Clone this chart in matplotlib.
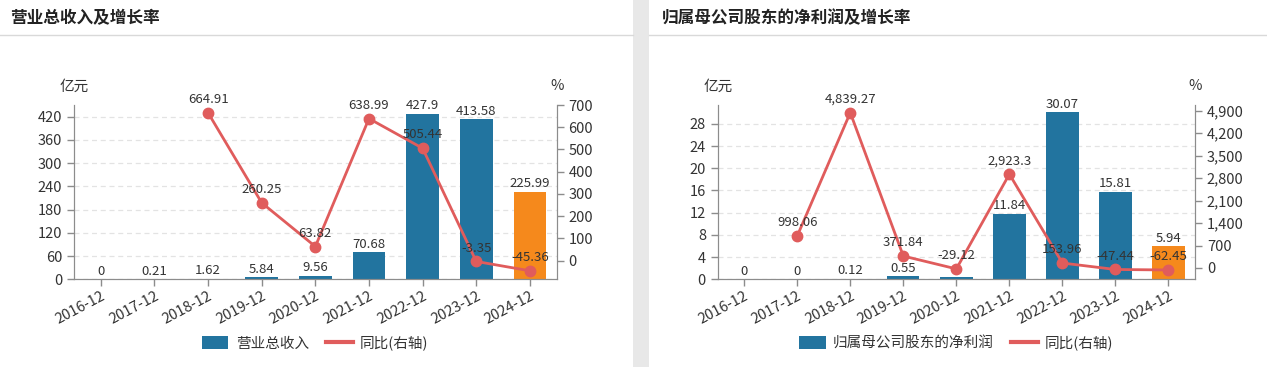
import matplotlib
matplotlib.use('Agg')
import matplotlib.pyplot as plt
import matplotlib.patches as patches
from matplotlib.lines import Line2D
import numpy as np

plt.rcParams['font.family'] = ['Noto Sans CJK SC', 'DejaVu Sans']

# 数据
years = ['2016-12', '2017-12', '2018-12', '2019-12', '2020-12',
         '2021-12', '2022-12', '2023-12', '2024-12']

revenue = [0, 0.21, 1.62, 5.84, 9.56, 70.68, 427.9, 413.58, 225.99]
revenue_yoy = [None, None, 664.91, 260.25, 63.82, 638.99, 505.44, -3.35, -45.36]

profit = [0, 0, 0.12, 0.55, 0.39, 11.84, 30.07, 15.81, 5.94]
profit_yoy = [None, 998.06, 4839.27, 371.84, -29.12, 2923.3, 153.96, -47.44, -62.45]
profit_label_hidden = [4]  # 与折线标签重叠, 原图不显示

left_ticks_1 = [0, 60, 120, 180, 240, 300, 360, 420]
right_ticks_1 = [0, 100, 200, 300, 400, 500, 600, 700]
left_ticks_2 = [0, 4, 8, 12, 16, 20, 24, 28]
right_ticks_2 = [0, 700, 1400, 2100, 2800, 3500, 4200, 4900]

BLUE = '#22749f'
ORANGE = '#f5891c'
RED = '#e05c5c'
AXIS = '#8c8c8c'
TXT = '#333333'

W, H = 1267, 367
fig = plt.figure(figsize=(W / 100, H / 100), dpi=100)
fig.patch.set_facecolor('white')

# 中间灰色分隔带和标题下划线
fig.add_artist(patches.Rectangle((632.7 / W, 0), 16.6 / W, 1, transform=fig.transFigure,
                                 facecolor='#e8e8e8', edgecolor='none'))
fig.add_artist(Line2D([0, 632.7 / W], [1 - 35 / H] * 2, color='#d9d9d9', lw=1))
fig.add_artist(Line2D([649.3 / W, 1], [1 - 35 / H] * 2, color='#d9d9d9', lw=1))
fig.text(10 / W, 1 - 18 / H, '营业总收入及增长率', fontsize=12, fontweight='bold',
         va='center', ha='left', color='#222222')
fig.text(662 / W, 1 - 18 / H, '归属母公司股东的净利润及增长率', fontsize=12, fontweight='bold',
         va='center', ha='left', color='#222222')


def fmt(v):
    return f'{v:,g}'


def draw_panel(x0, x1, bars, yoy, lticks, rticks, lylim, rylim, bar_name, hidden=()):
    y_bot = 1 - 279.3 / H
    y_top = 1 - 105 / H
    ax = fig.add_axes([x0 / W, y_bot, (x1 - x0) / W, y_top - y_bot])
    ax2 = ax.twinx()
    x = np.arange(len(years))
    colors = [BLUE] * (len(bars) - 1) + [ORANGE]
    ax.bar(x, bars, width=0.61, color=colors, zorder=2)
    for i, v in enumerate(bars):
        if i in hidden:
            continue
        ax.annotate(fmt(v), (x[i], v), xytext=(0, 1), textcoords='offset points',
                    ha='center', va='bottom', fontsize=9.5, color=TXT, zorder=5)
    ax.set_xlim(-0.5, len(years) - 0.5)
    ax.set_ylim(*lylim)
    ax.set_yticks(lticks)
    ax.set_yticklabels([fmt(t) for t in lticks])
    ax.grid(axis='y', color='#e3e3e3', linestyle=(0, (4, 3)), lw=0.9, zorder=0)
    ax.set_xticks(x)
    ax.set_xticklabels(years, rotation=28, ha='right', rotation_mode='anchor')

    # 折线在右轴, 画在柱子上方
    xs = [xi for xi, v in zip(x, yoy) if v is not None]
    ys = [v for v in yoy if v is not None]
    ax2.plot(xs, ys, color=RED, lw=2, marker='o', markersize=7.5, zorder=4)
    for xi, v in zip(xs, ys):
        ax2.annotate(fmt(v), (xi, v), xytext=(0, 5), textcoords='offset points',
                     ha='center', va='bottom', fontsize=9.5, color=TXT, zorder=6)
    ax2.set_ylim(*rylim)
    ax2.set_yticks(rticks)
    ax2.set_yticklabels([fmt(t) for t in rticks])

    for a in (ax, ax2):
        for s in a.spines.values():
            s.set_color(AXIS)
        a.spines['top'].set_visible(False)
        a.tick_params(colors=AXIS, labelcolor=TXT, labelsize=10.5, length=5, width=1)
    ax.tick_params(axis='x', labelsize=10.5, length=5, pad=2)

    fig.text(x0 / W, 1 - 87 / H, '亿元', ha='center', va='center', fontsize=10.5, color=TXT)
    fig.text(x1 / W, 1 - 86 / H, '%', ha='center', va='center', fontsize=10.5, color=TXT)

    handles = [patches.FancyBboxPatch((0, 0), 1, 1, boxstyle='round,pad=0.1',
                                      facecolor=BLUE, edgecolor='none'),
               Line2D([0], [0], color=RED, lw=3)]
    fig.legend(handles, [bar_name, '同比(右轴)'], loc='center',
               bbox_to_anchor=((x0 + x1) / 2 / W, 1 - 343 / H), ncol=2, frameon=False,
               fontsize=10.5, handlelength=1.8, handleheight=1.0, columnspacing=1.2,
               handletextpad=0.5, labelcolor=TXT)
    return ax, ax2


draw_panel(74, 556.7, revenue, revenue_yoy, left_ticks_1, right_ticks_1,
           (0, 450), (-83.6, 700), '营业总收入')
draw_panel(717.7, 1195, profit, profit_yoy, left_ticks_2, right_ticks_2,
           (0, 31.4), (-353, 5078), '归属母公司股东的净利润', hidden=profit_label_hidden)

fig.savefig('out.png', dpi=100)
